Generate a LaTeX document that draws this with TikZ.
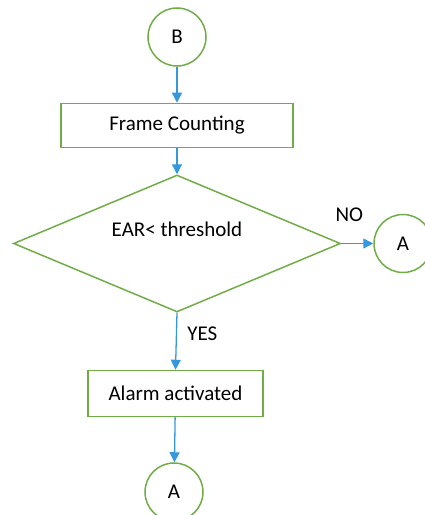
\documentclass[tikz,border=0pt]{standalone}
\usepackage{fontspec}
\setmainfont{Carlito}
\usetikzlibrary{shapes.geometric,arrows.meta,positioning}

\definecolor{boxgreen}{RGB}{112,173,71}
\definecolor{flowblue}{RGB}{52,152,219}

\begin{document}
\begin{tikzpicture}[
  x=1pt, y=1pt,
  font=\fontsize{21}{25}\selectfont,
  connector/.style={circle, draw=boxgreen, line width=1.5pt, minimum size=58pt, inner sep=0pt},
  process/.style={rectangle, draw=boxgreen, line width=1.5pt, minimum height=44pt, inner sep=0pt},
  decision/.style={diamond, draw=boxgreen, line width=1.5pt, minimum width=327pt,
    minimum height=137pt, inner sep=0pt},
  arrow/.style={-{Triangle[length=10pt,width=10pt]}, draw=flowblue, line width=1.3pt}
]
  \useasboundingbox (0,0) rectangle (425,515);
  \node[connector] (b) at (177,478) {B};
  \node[process, minimum width=232pt, below=36pt of b] (frame) {Frame Counting};
  \node[decision, below=26pt of frame] (ear) {};
  \node (eartext) at ([yshift=14pt]ear.center) {EAR< threshold};
  \node[connector, right=32pt of ear.east] (aright) {A};
  \node[process, minimum width=175pt, minimum height=46pt, below=57pt of ear, xshift=-1.5pt] (alarm) {Alarm activated};
  \node[connector, below=45pt of alarm, xshift=-1.5pt] (abottom) {A};
  \draw[arrow] (b) -- (frame);
  \draw[arrow] (frame) -- (ear);
  \draw[arrow] (ear.east) -- node[above=18pt, pos=0.25] (no) {NO} (aright);
  \draw[arrow] (ear.south) -- node[right=7pt, pos=0.37] (yes) {YES} (alarm.north);
  \draw[arrow] (alarm) -- (abottom);
\end{tikzpicture}
\end{document}
